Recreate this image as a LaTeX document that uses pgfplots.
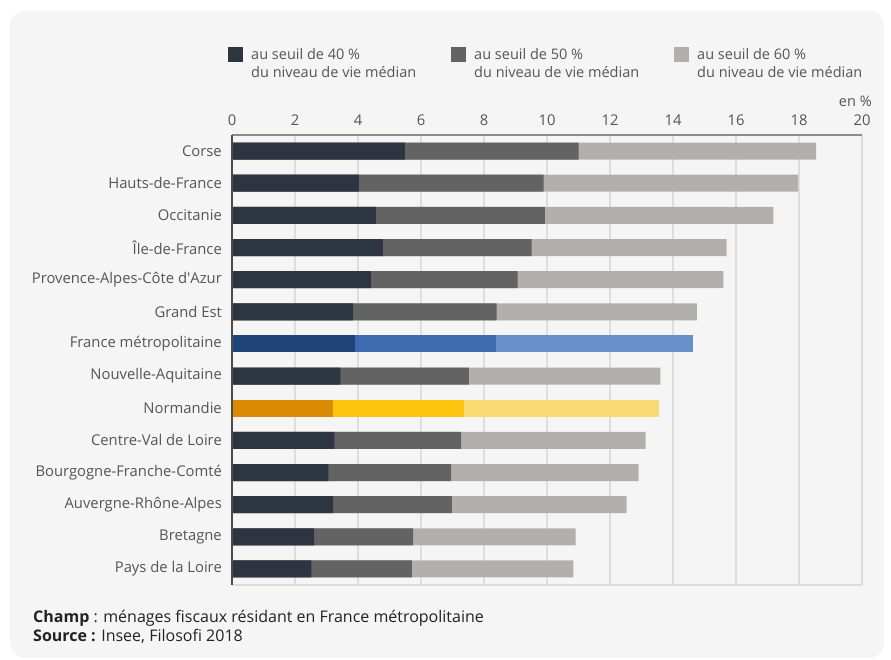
\documentclass[border=0pt]{standalone}
\usepackage{fontspec}
\setmainfont{Open Sans}
\usepackage{pgfplots}
\pgfplotsset{compat=1.18}
\usepackage{pgfplotstable}
\definecolor{cdark}{HTML}{2D3540}
\definecolor{cmid}{HTML}{636363}
\definecolor{clight}{HTML}{B1B0AE}
\definecolor{frA}{HTML}{1F4478}
\definecolor{frB}{HTML}{3E6AB0}
\definecolor{frC}{HTML}{6890C8}
\definecolor{noA}{HTML}{DB8A06}
\definecolor{noB}{HTML}{FEC30D}
\definecolor{noC}{HTML}{FAD872}
\definecolor{panel}{HTML}{F5F5F5}
\definecolor{gridc}{HTML}{DDDDDD}
\definecolor{labelc}{HTML}{555555}
\definecolor{notec}{HTML}{222222}
\pgfplotstableread{
idx v40 v50 v60
0 5.49 11.00 18.54
1 4.03 9.89 17.97
2 4.57 9.93 17.19
3 4.79 9.51 15.70
4 4.41 9.07 15.60
5 3.84 8.40 14.76
7 3.44 7.52 13.60
9 3.25 7.27 13.13
10 3.06 6.96 12.91
11 3.21 6.98 12.53
12 2.61 5.75 10.91
13 2.52 5.71 10.84
}\regions
\pgfplotstableread{
idx v40 v50 v60
6 3.91 8.38 14.64
}\france
\pgfplotstableread{
idx v40 v50 v60
8 3.21 7.36 13.57
}\normandie
\begin{document}
\begin{tikzpicture}
\useasboundingbox (0pt,0pt) rectangle (891pt,659pt);
\fill[panel, rounded corners=15pt] (10pt,1pt) rectangle (884pt,648pt);
\begin{axis}[
  at={(232pt,524pt)}, anchor=north west,
  width=630pt, height=450pt, scale only axis,
  xmin=0, xmax=20, ymin=-0.5, ymax=13.5,
  y dir=reverse,
  xbar, bar width=17pt, bar shift=0pt,
  axis line style={draw=none},
  xtick={0,2,...,20},
  xticklabel pos=upper,
  major tick length=0pt,
  grid=none, xmajorgrids,
  grid style={draw=gridc, line width=1.3pt},
  ytick={0,...,13},
  yticklabels={Corse,Hauts-de-France,Occitanie,Île-de-France,Provence-Alpes-Côte d\textquotesingle Azur,Grand Est,France métropolitaine,Nouvelle-Aquitaine,Normandie,Centre-Val de Loire,Bourgogne-Franche-Comté,Auvergne-Rhône-Alpes,Bretagne,Pays de la Loire},
  every tick label/.append style={font=\fontsize{14.8}{16}\selectfont, text=labelc},
  xticklabel style={inner sep=0pt, anchor=south, yshift=9pt},
  yticklabel style={inner sep=0pt, anchor=east, xshift=-10pt},
  /pgf/number format/assume math mode=true,
  legend style={at={(axis description cs:-0.0063,1.198)}, anchor=north west,
    draw=none, fill=none, inner sep=0pt, legend columns=3,
    font=\fontsize{14.5}{18}\selectfont, text=labelc,
    cells={anchor=north west, align=left},
    /tikz/every even column/.append style={column sep=33pt}},
  legend image code/.code={\fill[#1, draw=none] (0pt,-15.5pt) rectangle (14.5pt,-1pt); \path[draw=none, fill=none] (0pt,-2pt) -- (21pt,-2pt);},
  clip=false,
]
\addlegendimage{fill=cdark, draw=none}
\addlegendentry{au seuil de 40~\%\\du niveau de vie médian}
\addlegendimage{fill=cmid, draw=none}
\addlegendentry{au seuil de 50~\%\\du niveau de vie médian}
\addlegendimage{fill=clight, draw=none}
\addlegendentry{au seuil de 60~\%\\du niveau de vie médian}
\addplot[fill=clight, draw=none, forget plot] table[x=v60, y=idx] {\regions};
\addplot[fill=cmid, draw=none, forget plot] table[x=v50, y=idx] {\regions};
\addplot[fill=cdark, draw=none, forget plot] table[x=v40, y=idx] {\regions};
\addplot[fill=frC, draw=none, forget plot] table[x=v60, y=idx] {\france};
\addplot[fill=frB, draw=none, forget plot] table[x=v50, y=idx] {\france};
\addplot[fill=frA, draw=none, forget plot] table[x=v40, y=idx] {\france};
\addplot[fill=noC, draw=none, forget plot] table[x=v60, y=idx] {\normandie};
\addplot[fill=noB, draw=none, forget plot] table[x=v50, y=idx] {\normandie};
\addplot[fill=noA, draw=none, forget plot] table[x=v40, y=idx] {\normandie};
\draw[color=gridc, line width=1.3pt] (axis description cs:0,0) -- (axis description cs:1,0);
\draw[color=black!45, line width=1.5pt] (axis description cs:0,1) -- (axis description cs:1,1);
\draw[color=black!70, line width=1.3pt] (axis description cs:0,0) -- (axis description cs:0,1);
\node[anchor=base east, font=\fontsize{14.5}{16}\selectfont, text=labelc, inner sep=0pt] at (axis description cs:1.0157,1.064) {en \%};
\end{axis}
\node[anchor=base west, inner sep=0pt, font=\fontsize{16}{18}\selectfont, text=notec] at (33pt,37pt) {\textbf{Champ} : ménages fiscaux résidant en France métropolitaine};
\node[anchor=base west, inner sep=0pt, font=\fontsize{16}{18}\selectfont, text=notec] at (33pt,18pt) {\textbf{Source :} Insee, Filosofi 2018};
\end{tikzpicture}
\end{document}
